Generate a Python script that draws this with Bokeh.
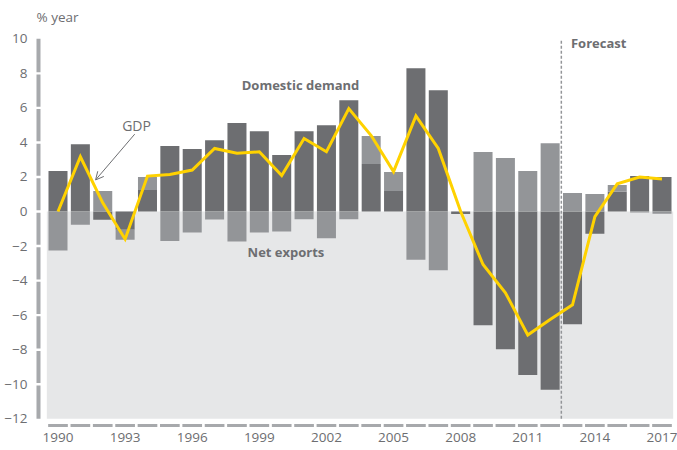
import numpy as np
from bokeh.plotting import figure
from bokeh.models import Range1d, ColumnDataSource, Arrow, OpenHead, FixedTicker, Label
from bokeh.embed import file_html
from bokeh.resources import INLINE

# ---- data ----
years = list(range(1990, 2018))
domestic_demand = [2.35, 3.9, -0.48, -1.06, 1.25, 3.79, 3.62, 4.13, 5.12, 4.65,
                   3.27, 4.65, 5.0, 6.44, 2.75, 1.19, 8.29, 7.02, -0.15, -6.59,
                   -7.97, -9.46, -10.32, -6.53, -1.29, 1.14, 2.06, 2.0]
net_exports = [-2.25, -0.77, 1.19, -0.57, 0.75, -1.7, -1.21, -0.46, -1.74, -1.21,
               -1.15, -0.44, -1.54, -0.44, 1.62, 1.1, -2.79, -3.4, 0.0, 3.44,
               3.1, 2.35, 3.96, 1.08, 1.02, 0.4, -0.06, -0.13]
gdp = [0.0, 3.17, 0.5, -1.6, 2.05, 2.15, 2.4, 3.65, 3.37, 3.46,
       2.08, 4.23, 3.46, 5.96, 4.4, 2.31, 5.54, 3.65, 0.0, -3.07,
       -4.7, -7.15, -6.25, -5.4, -0.29, 1.6, 2.0, 1.89]
year_ticks = [1990, 1993, 1996, 1999, 2002, 2005, 2008, 2011, 2014, 2017]
value_ticks = list(range(-12, 11, 2))
forecast_start = 2012.5

FONT = "Open Sans"
DARK = "#6d6e71"
LIGHT = "#939598"
BG = "#e6e7e8"
AXIS = "#a7a9ac"
YELLOW = "#ffd200"
TEXT = "#6d6e71"

# stacking: net exports sit on top of domestic demand when same sign
dd = np.array(domestic_demand)
ne = np.array(net_exports)
same = np.sign(dd) == np.sign(ne)
ne_bottom = np.where(same, dd, 0.0)
ne_top = ne_bottom + ne

src = ColumnDataSource(dict(year=years, dd=dd, zero=np.zeros(len(years)),
                            ne_bottom=ne_bottom, ne_top=ne_top, gdp=gdp))

p = figure(width=677, height=450, output_backend="svg", toolbar_location=None,
           x_range=Range1d(1988.9495, 2017.693), y_range=Range1d(-12.504, 12.218),
           min_border_left=34, min_border_right=0, min_border_top=0,
           min_border_bottom=23)
p.outline_line_color = None
p.grid.visible = False
p.background_fill_color = "white"
p.border_fill_color = "white"

# light grey background below zero
p.quad(left=[years[0] - 0.5], right=[years[-1] + 0.5], bottom=[value_ticks[0]],
       top=[0], fill_color=BG, line_color=None)

# bars
p.vbar(x="year", bottom="zero", top="dd", width=0.85, source=src,
       fill_color=DARK, line_color=None)
p.vbar(x="year", bottom="ne_bottom", top="ne_top", width=0.85, source=src,
       fill_color=LIGHT, line_color=None)

# forecast divider
p.segment(x0=[forecast_start], x1=[forecast_start], y0=[value_ticks[0]],
          y1=[value_ticks[-1]], line_color=LIGHT, line_width=1.5, line_dash="3 2")

# GDP line
p.line(x="year", y="gdp", source=src, line_color=YELLOW, line_width=3,
       line_join="miter")

# custom segmented y-axis bar
vt = np.array(value_ticks, dtype=float)
g = 0.07
y0s = vt[:-1] + np.where(np.arange(len(vt) - 1) == 0, 0.0, g)
y1s = vt[1:] - np.where(np.arange(1, len(vt)) == len(vt) - 1, 0.0, g)
xbar = 1989.128
p.segment(x0=[xbar] * len(y0s), x1=[xbar] * len(y0s), y0=y0s, y1=y1s,
          line_color=AXIS, line_width=4, line_cap="butt")

# custom dashed x-axis
yr = np.array(years, dtype=float)
p.segment(x0=yr - 0.5 + 0.06, x1=yr + 0.5 - 0.06, y0=[-12.39] * len(yr),
          y1=[-12.39] * len(yr), line_color=AXIS, line_width=3, line_cap="butt")

# axes: labels only
for ax in (p.xaxis, p.yaxis):
    ax.axis_line_color = None
    ax.major_tick_line_color = None
    ax.minor_tick_line_color = None
    ax.major_tick_out = 0
    ax.major_tick_in = 0
    ax.minor_tick_out = 0
    ax.minor_tick_in = 0
    ax.major_label_text_font = FONT
    ax.major_label_text_font_size = "13.5px"
    ax.major_label_text_color = TEXT
p.xaxis.ticker = FixedTicker(ticks=year_ticks)
p.yaxis.ticker = FixedTicker(ticks=value_ticks)
p.xaxis.major_label_standoff = 5
p.yaxis.major_label_standoff = 7

# annotations
def lab(x, y, text, size="13.5px", style="normal", align="center"):
    p.add_layout(Label(x=x, y=y, text=text, text_font=FONT, text_font_size=size,
                       text_font_style=style, text_color=TEXT, text_align=align,
                       text_baseline="middle"))

lab(1989.04, 11.25, "% year", size="13.5px", align="left")
lab(2000.84, 7.3, "Domestic demand", size="13px", style="bold")
lab(2000.19, -2.35, "Net exports", size="13px", style="bold")
lab(1993.51, 5.0, "GDP", size="14px")
lab(2012.93, 9.74, "Forecast", size="13px", style="bold", align="left")

p.add_layout(Arrow(end=OpenHead(size=8, line_color=TEXT, line_width=1),
                   x_start=1993.43, y_start=4.48, x_end=1991.68, y_end=1.83,
                   line_color=TEXT, line_width=1))

open("out.html", "w").write(file_html(p, INLINE))
